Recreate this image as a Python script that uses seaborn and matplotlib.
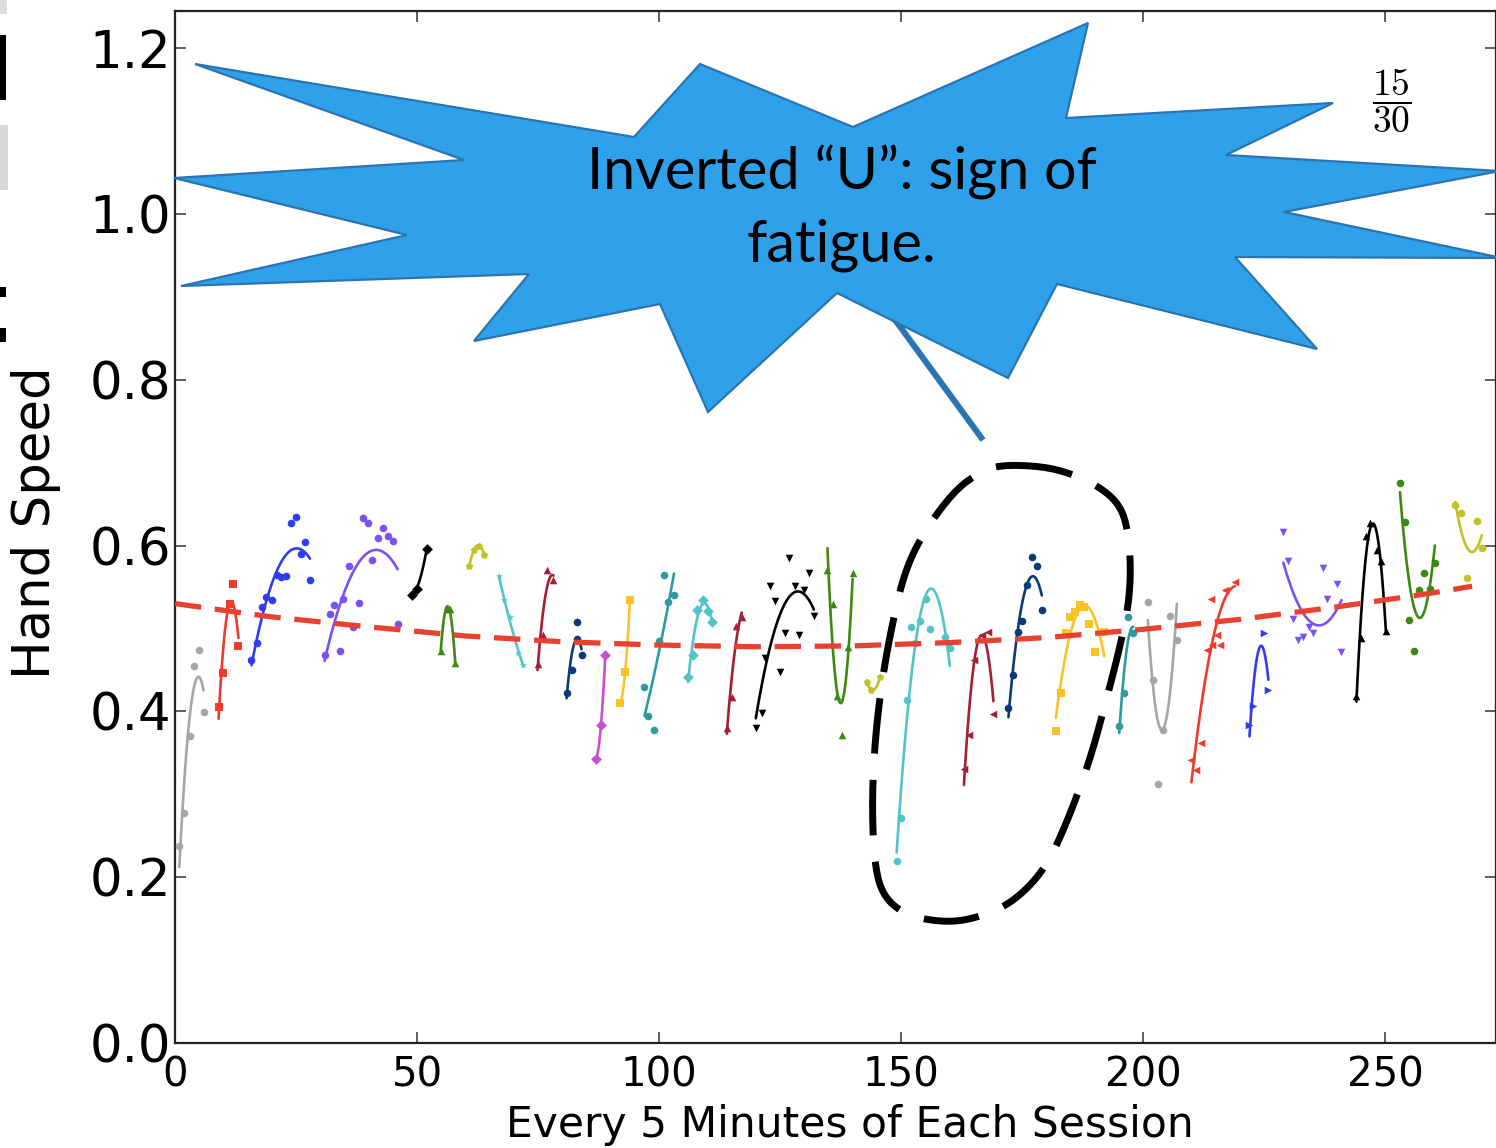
import numpy as np
import matplotlib
matplotlib.use("Agg")
import matplotlib.pyplot as plt
import seaborn as sns
from matplotlib.patches import Polygon, Rectangle
from matplotlib.lines import Line2D
from matplotlib.transforms import Affine2D
from matplotlib.ticker import FormatStrFormatter

# ---------------- data ----------------
x01 = [0.9, 1.9, 3.0, 3.9, 5.0, 5.9]
y01 = [0.238, 0.277, 0.370, 0.455, 0.474, 0.399]
x02 = [9.0, 9.9, 11.4, 11.9, 13.1]
y02 = [0.405, 0.446, 0.530, 0.554, 0.479]
x03 = [15.8, 17.0, 17.9, 18.9, 20.0, 21.0, 22.0, 23.0, 23.9, 25.0, 26.0, 26.9, 27.9]
y03 = [0.462, 0.483, 0.526, 0.538, 0.534, 0.565, 0.562, 0.563, 0.627, 0.634, 0.590, 0.604, 0.558]
x04 = [30.9, 32.0, 32.9, 34.0, 34.8, 35.9, 36.8, 38.0, 38.9, 39.9, 40.8, 41.9, 42.9, 44.1, 45.0, 46.0]
y04 = [0.468, 0.518, 0.528, 0.473, 0.536, 0.575, 0.502, 0.531, 0.633, 0.627, 0.583, 0.609, 0.621, 0.611, 0.606, 0.506]
x05 = [48.9, 49.9, 52.0]
y05 = [0.540, 0.548, 0.596]
x06 = [54.9, 56.1, 56.8, 57.9]
y06 = [0.473, 0.523, 0.523, 0.458]
x07 = [60.8, 61.8, 62.9, 63.9]
y07 = [0.575, 0.595, 0.600, 0.589]
x08 = [67.0, 67.9, 69.2, 70.9, 72.0]
y08 = [0.563, 0.534, 0.514, 0.470, 0.456]
x09 = [74.9, 76.0, 76.8, 78.2]
y09 = [0.457, 0.492, 0.571, 0.559]
x10 = [80.9, 82.0, 83.0, 83.0, 84.0]
y10 = [0.422, 0.450, 0.487, 0.508, 0.468]
x11 = [87.0, 88.0, 88.9]
y11 = [0.343, 0.383, 0.468]
x12 = [91.9, 93.0, 94.0]
y12 = [0.410, 0.447, 0.534]
x13 = [97.0, 97.8, 99.0, 100.0, 101.1, 101.9, 103.1]
y13 = [0.430, 0.394, 0.377, 0.485, 0.565, 0.532, 0.541]
x14 = [106.0, 107.1, 107.8, 109.0, 110.2, 111.0]
y14 = [0.442, 0.468, 0.522, 0.534, 0.521, 0.508]
x15 = [114.0, 115.0, 115.9, 117.1]
y15 = [0.380, 0.417, 0.503, 0.514]
x16 = [120.0, 121.2, 122.0, 122.9, 124.0, 125.0, 126.0, 126.9, 128.1, 128.9, 130.0, 131.0, 132.0]
y16 = [0.380, 0.398, 0.464, 0.551, 0.533, 0.448, 0.495, 0.585, 0.551, 0.492, 0.546, 0.567, 0.515]
x17 = [134.8, 136.0, 136.7, 137.9, 139.1, 140.0]
y17 = [0.571, 0.530, 0.419, 0.372, 0.478, 0.567]
x18 = [142.9, 143.9, 145.7]
y18 = [0.436, 0.426, 0.442]
x19 = [149.1, 150.1, 151.2, 152.0, 152.9, 153.9, 155.1, 156.0, 159.1, 160.1]
y19 = [0.220, 0.271, 0.414, 0.502, 0.482, 0.509, 0.536, 0.500, 0.490, 0.476]
x20 = [163.0, 164.1, 165.1, 166.7, 167.9, 169.1]
y20 = [0.330, 0.372, 0.462, 0.492, 0.496, 0.397]
x21 = [172.2, 173.1, 174.2, 175.0, 176.1, 177.0, 178.0, 179.1]
y21 = [0.404, 0.444, 0.496, 0.509, 0.552, 0.586, 0.575, 0.522]
x22 = [182.0, 183.0, 184.1, 185.0, 186.0, 186.9, 187.8, 188.9, 190.1, 192.0]
y22 = [0.376, 0.422, 0.495, 0.514, 0.520, 0.528, 0.526, 0.506, 0.472, 0.496]
x23 = [195.1, 196.1, 197.0, 198.0]
y23 = [0.382, 0.422, 0.514, 0.494]
x24 = [201.0, 202.0, 203.2, 204.1, 205.6, 207.0]
y24 = [0.532, 0.438, 0.313, 0.378, 0.515, 0.486]
x25 = [210.0, 210.9, 211.9, 213.2, 214.0, 214.2, 215.2, 216.0, 217.0, 219.0]
y25 = [0.341, 0.329, 0.362, 0.474, 0.535, 0.480, 0.492, 0.480, 0.546, 0.556]
x26 = [222.0, 222.8, 225.0, 225.9]
y26 = [0.384, 0.406, 0.495, 0.426]
x27 = [229.0, 230.0, 231.0, 232.1, 233.1, 234.2, 235.2, 237.1, 238.1, 240.0, 241.0]
y27 = [0.617, 0.581, 0.511, 0.486, 0.490, 0.502, 0.494, 0.573, 0.536, 0.554, 0.472]
x28 = [244.1, 245.0, 246.1, 247.0, 248.3, 249.2, 250.2]
y28 = [0.418, 0.488, 0.612, 0.627, 0.595, 0.581, 0.497]
x29 = [253.1, 254.1, 255.0, 256.0, 257.1, 258.1, 259.2, 260.3]
y29 = [0.676, 0.628, 0.510, 0.473, 0.547, 0.567, 0.548, 0.579]
x30 = [264.5, 265.8, 267.0, 269.0, 270.0]
y30 = [0.649, 0.639, 0.561, 0.630, 0.597]

session_x = [x01, x02, x03, x04, x05, x06, x07, x08, x09, x10, x11, x12, x13, x14, x15,
             x16, x17, x18, x19, x20, x21, x22, x23, x24, x25, x26, x27, x28, x29, x30]
session_y = [y01, y02, y03, y04, y05, y06, y07, y08, y09, y10, y11, y12, y13, y14, y15,
             y16, y17, y18, y19, y20, y21, y22, y23, y24, y25, y26, y27, y28, y29, y30]

# overall trend (dashed red)
trend_x = [0, 20, 40, 60, 80, 100, 120, 140, 160, 180, 200, 220, 240, 260, 268]
trend_y = [0.530, 0.514, 0.502, 0.491, 0.484, 0.480, 0.478, 0.479, 0.483, 0.489,
           0.499, 0.511, 0.526, 0.543, 0.551]

x_ticks = [0, 50, 100, 150, 200, 250]
y_ticks = [0.0, 0.2, 0.4, 0.6, 0.8, 1.0, 1.2]
x_label = "Every 5 Minutes of Each Session"
y_label = "Hand Speed"
callout_line1 = "Inverted \u201cU\u201d: sign of"
callout_line2 = "fatigue."
page_number = r"$\dfrac{15}{30}$"

# ---------------- styles ----------------
GRAY, RED, BLUE, PURPLE, BLACK = "#a6a6a6", "#f03a2c", "#2f3df2", "#7a52f2", "#000000"
GREEN, OLIVE, CYAN, DRED, NAVY = "#3c8a12", "#c2c224", "#52c4c8", "#a21f36", "#0c3a76"
MAG, GOLD, TEAL = "#c84ed2", "#fbc225", "#2e9a9e"
session_colors = [GRAY, RED, BLUE, PURPLE, BLACK, GREEN, OLIVE, CYAN, DRED, NAVY,
                  MAG, GOLD, TEAL, CYAN, DRED, BLACK, GREEN, OLIVE, CYAN, DRED,
                  NAVY, GOLD, TEAL, GRAY, RED, BLUE, PURPLE, BLACK, GREEN, OLIVE]
session_markers = ["o", "s", "o", "o", "D", "^", "p", "*", "^", "o",
                   "D", "s", "o", "D", "^", "v", "^", "p", "o", "<",
                   "o", "s", "o", "o", "<", ">", "v", "^", "o", "o"]

W, H, DPI = 1496, 1148, 100
sns.set_style("ticks")
plt.rcParams.update({
    "font.family": ["DejaVu Sans"],
    "text.color": "black", "axes.labelcolor": "black",
    "xtick.color": "black", "ytick.color": "black",
    "xtick.direction": "in", "ytick.direction": "in",
    "xtick.top": True, "ytick.right": True,
    "mathtext.fontset": "cm",
})

fig = plt.figure(figsize=(W / DPI, H / DPI), dpi=DPI, facecolor="white")
ax = fig.add_axes([175 / W, (H - 1043) / H, (W - 175) / W, (1043 - 11) / H])
ax.set_facecolor("white")

for xs, ys, c, m in zip(session_x, session_y, session_colors, session_markers):
    sns.regplot(x=np.array(xs), y=np.array(ys), order=2, ci=None, ax=ax, color=c,
                marker=m, truncate=True,
                scatter_kws={"s": 30, "linewidths": 0, "alpha": 1, "zorder": 3},
                line_kws={"lw": 1.9, "zorder": 3})

sns.lineplot(x=trend_x, y=trend_y, ax=ax, color="#e8412f", lw=3.8, zorder=4,
             dashes=False)
ax.lines[-1].set_dashes((5, 2.6))

ax.set_xlim(0, (W - 175) / 4.84)
ax.set_ylim(0, 1032 / 829)
ax.set_xticks(x_ticks)
ax.set_yticks(y_ticks)
ax.yaxis.set_major_formatter(FormatStrFormatter("%.1f"))
ax.tick_params(axis="y", labelsize=37, length=8, width=1.2, pad=3, color="#444444",
               labelcolor="black")
ax.tick_params(axis="x", labelsize=29, length=8, width=1.2, pad=9, color="#444444",
               labelcolor="black")
for s in ax.spines.values():
    s.set_linewidth(1.6)
    s.set_color("#222222")

ax.set_xlabel(x_label, fontsize=30.5, color="black")
ax.xaxis.set_label_coords((850 - 175) / (W - 175), -(1125 - 1043) / 1032)
ax.xaxis.label.set_va("center")
ax.set_ylabel(y_label, fontsize=37, color="black")
ax.yaxis.set_label_coords((36 - 175) / (W - 175), (1043 - 523) / 1032)
ax.yaxis.label.set_va("center")

# ---------------- annotations in image-pixel coordinates ----------------
img = Affine2D().scale(1 / W, -1 / H).translate(0, 1) + fig.transFigure

star = [(195, 64), (634, 137), (700, 64), (853, 127), (1088, 23), (1066, 118),
        (1333, 103), (1226, 155), (1500, 171), (1284, 212), (1502, 258), (1235, 257),
        (1317, 349), (1057, 284), (1008, 378), (837, 293), (708, 412), (660, 304),
        (474, 341), (529, 274), (181, 286), (407, 235), (174, 178), (464, 160)]
fig.add_artist(Line2D([893, 983], [317, 440], transform=img, color="#2a74b2",
                      lw=4.4, solid_capstyle="butt", zorder=5))
fig.add_artist(Polygon(star, closed=True, transform=img, facecolor="#2fa1ea",
                       edgecolor="#2a74b2", lw=1.6, zorder=6))
fig.text(842 / W, 1 - 172 / H, callout_line1, fontsize=41.5, family="Lato",
         color="black", ha="center", va="center", zorder=7)
fig.text(842 / W, 1 - 245 / H, callout_line2, fontsize=41.5, family="Lato",
         color="black", ha="center", va="center", zorder=7)

loop = np.array([(1000, 465), (1040, 466), (1070, 473), (1100, 487), (1120, 505),
                 (1128, 530), (1131, 570), (1128, 610), (1118, 655), (1105, 705),
                 (1090, 760), (1068, 820), (1045, 870), (1010, 905), (970, 920),
                 (940, 922), (905, 915), (882, 895), (874, 860), (872, 800),
                 (875, 740), (882, 680), (892, 625), (905, 570), (925, 530),
                 (955, 490), (980, 472)], dtype=float)
for _ in range(3):
    nxt = np.roll(loop, -1, axis=0)
    q = 0.75 * loop + 0.25 * nxt
    r = 0.25 * loop + 0.75 * nxt
    loop = np.empty((2 * len(q), 2))
    loop[0::2], loop[1::2] = q, r
loop = np.vstack([loop, loop[:1]])
fig.add_artist(Line2D(loop[:, 0], loop[:, 1], transform=img, color="black", lw=5,
                      dashes=(8, 3.8), dash_capstyle="butt", zorder=5))

fig.text(1392 / W, 1 - 101 / H, page_number, fontsize=27, color="black",
         ha="center", va="center", zorder=7)

# slide remnants on the left edge
for (x0, y0, x1, y1, col) in [(0, 35, 6, 100, "black"), (0, 125, 8, 190, "#d8d8d8"),
                              (0, 287, 6, 297, "black"), (0, 328, 6, 342, "black"),
                              (0, 0, 7, 14, "#dddddd")]:
    fig.add_artist(Rectangle((x0, y0), x1 - x0, y1 - y0, transform=img,
                             facecolor=col, edgecolor="none", zorder=8))

fig.savefig("out.png", dpi=DPI, facecolor="white")
